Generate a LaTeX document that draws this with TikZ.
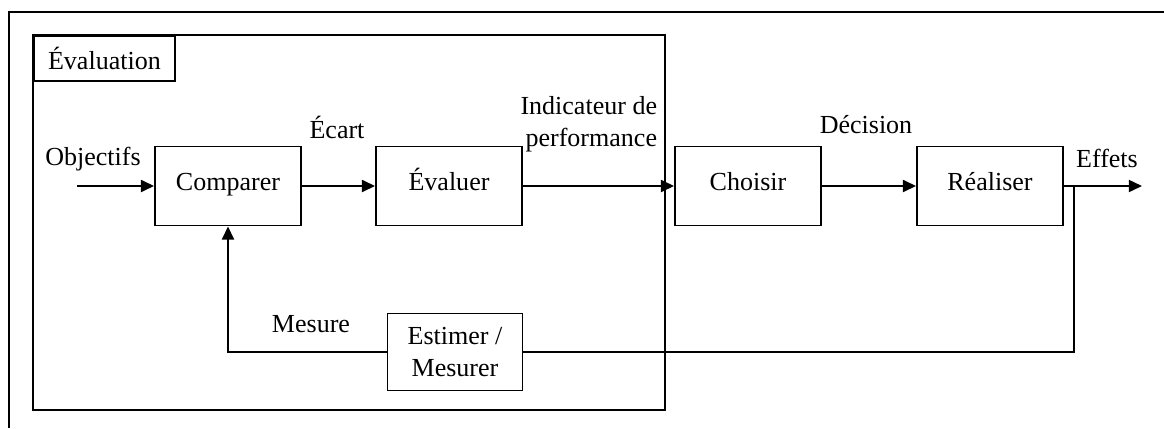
\documentclass[tikz,border=0pt]{standalone}
\usepackage{fontspec}
\setmainfont{Liberation Serif}
\usetikzlibrary{arrows.meta,positioning}

\begin{document}
\begin{tikzpicture}[x=0.025cm, y=-0.025cm, font=\fontsize{18.5}{23}\selectfont,
	cadre/.style={draw, line width=1.3pt, minimum width=3.65cm, minimum height=1.975cm},
	bloc/.style={cadre, text height=1.7ex, text depth=0.3ex},
	fleche/.style={line width=1.5pt, -{Triangle[length=3.3mm,width=3mm]}},
	trait/.style={line width=1.5pt}]
	\useasboundingbox (0,0) rectangle (1164,428);
	% cadre exterieur
	\draw[line width=1.5pt] (1164,12) -- (9,12) -- (9,428);
	% cadre evaluation
	\draw[line width=1.3pt] (33,35) rectangle (665,410);
	\node[draw, line width=1.3pt, anchor=north west, minimum width=3.525cm, minimum height=1.125cm] (etiq) at (33,35) {Évaluation};
	% blocs
	\node[bloc] (cmp) at (228,186) {Comparer};
	\node[bloc] (evl) at (449,186) {Évaluer};
	\node[bloc] (cho) at (748,186) {Choisir};
	\node[bloc] (rea) at (990,186) {Réaliser};
	\node[cadre, minimum width=3.375cm, minimum height=1.925cm, align=center] (est) at (455,352) {Estimer /\\Mesurer};
	% etiquettes
	\node (obj) at (93,159) {Objectifs};
	\node (ecart) at (337,127) {Écart};
	\node[align=right, anchor=east] (ind) at (662,124) {Indicateur de\\performance};
	\node (dec) at (866,125) {Décision};
	\node (eff) at (1107,158) {Effets};
	\node (mes) at (311,324) {Mesure};
	% liaisons
	\coordinate (entree) at (77,186);
	\coordinate (sortie) at (1142,186);
	\coordinate (prise) at (1074,186);
	\draw[fleche] (entree) -- (cmp);
	\draw[fleche] (cmp) -- (evl);
	\draw[fleche] (evl) -- (cho);
	\draw[fleche] (cho) -- (rea);
	\draw[fleche] (rea) -- (sortie);
	\draw[trait] (prise) |- (est);
	\draw[fleche] (est) -| (cmp);
\end{tikzpicture}
\end{document}
